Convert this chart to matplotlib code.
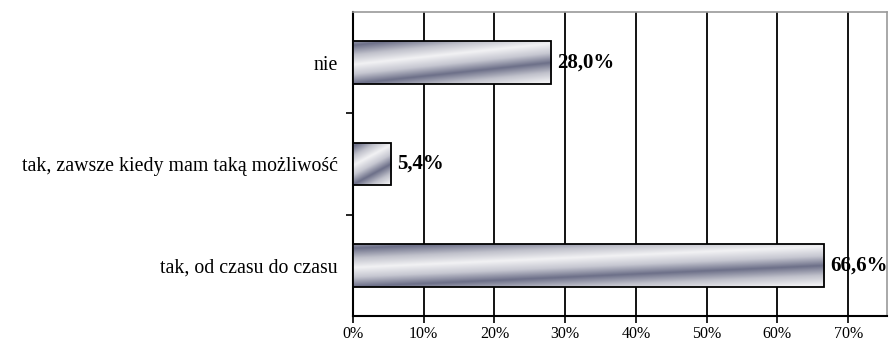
import numpy as np
import matplotlib.pyplot as plt
from matplotlib.colors import LinearSegmentedColormap
from matplotlib.patches import Rectangle

categories = ["tak, od czasu do czasu", "tak, zawsze kiedy mam taką możliwość", "nie"]
values = [66.6, 5.4, 28.0]
value_labels = ["66,6%", "5,4%", "28,0%"]
xticks = [0, 10, 20, 30, 40, 50, 60, 70]

plt.rcParams['font.family'] = ['Liberation Serif', 'DejaVu Serif']

fig = plt.figure(figsize=(8.96, 3.43), dpi=100)
ax = fig.add_axes([0.394, 0.079, 0.596, 0.886])

# metaliczny gradient paskow
metal = LinearSegmentedColormap.from_list(
    "metal", ["#6d7089", "#c6c7d1", "#f2f2f4", "#c0c1cb", "#6d7089"])

bar_h = 0.42
for i, v in enumerate(values):
    y0 = i - bar_h / 2
    u, w = np.meshgrid(np.linspace(0, 1, 300), np.linspace(0, 1, 60))
    s = (w * 1.1 - u * 0.55) % 1.0
    im = ax.imshow(s, cmap=metal, aspect='auto', origin='lower',
                   extent=[0, v, y0, y0 + bar_h], zorder=3, interpolation='bilinear')
    rect = Rectangle((0, y0), v, bar_h, facecolor='none', edgecolor='black',
                     linewidth=1.3, zorder=4)
    ax.add_patch(rect)
    im.set_clip_path(rect)
    ax.text(v + 0.9, i, value_labels[i], va='center', ha='left',
            fontsize=15, fontweight='bold', zorder=5)

ax.set_xlim(0, 75.5)
ax.set_ylim(-0.5, 2.5)
ax.set_xticks(xticks)
ax.set_xticklabels([f"{t}%" for t in xticks], fontsize=11.5)
ax.set_yticks([0, 1, 2])
ax.set_yticklabels(categories, fontsize=14.3)
ax.tick_params(axis='y', length=0, pad=11)
ax.set_yticks([0.5, 1.5], minor=True)
ax.tick_params(axis='y', which='minor', length=5, width=1.2, direction='out')
ax.tick_params(axis='x', length=5, width=1.2, direction='out', pad=2)

ax.grid(axis='x', color='black', linewidth=1.3, zorder=1)
ax.set_axisbelow(True)
for side in ['left', 'bottom']:
    ax.spines[side].set_linewidth(1.5)
    ax.spines[side].set_color('black')
for side in ['top', 'right']:
    ax.spines[side].set_linewidth(1.2)
    ax.spines[side].set_color('#9a9a9a')

fig.savefig("out.png", dpi=100)
